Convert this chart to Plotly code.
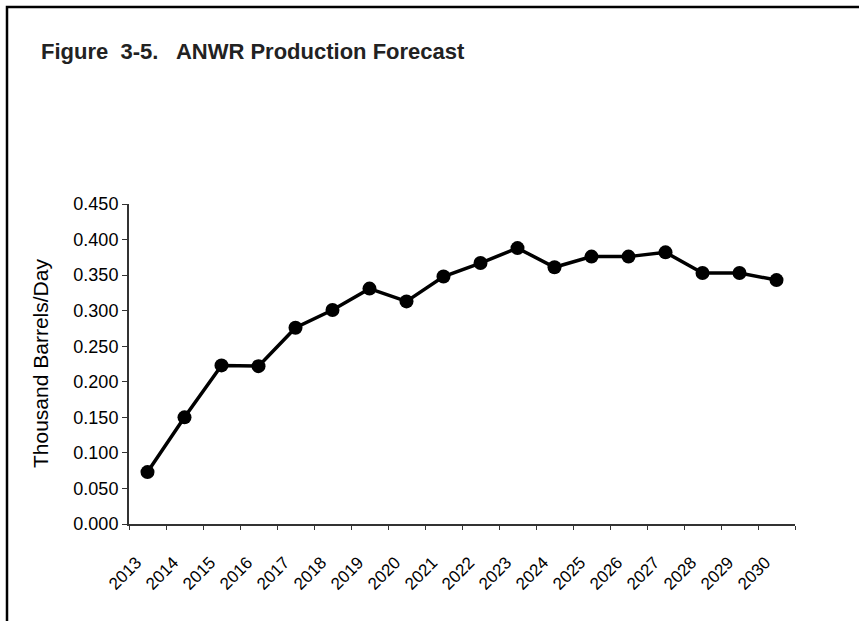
import plotly.graph_objects as go

years = [str(y) for y in range(2013, 2031)]
production = [0.073, 0.150, 0.223, 0.222, 0.276, 0.301, 0.331, 0.313, 0.348,
              0.367, 0.388, 0.361, 0.376, 0.376, 0.382, 0.353, 0.353, 0.343]
y_ticks = [0.0, 0.05, 0.10, 0.15, 0.20, 0.25, 0.30, 0.35, 0.40, 0.45]
y_tick_labels = ["0.000", "0.050", "0.100", "0.150", "0.200", "0.250",
                 "0.300", "0.350", "0.400", "0.450"]

W, H = 859, 621
L, R, T, B = 129, 64, 204, 97
pw, ph = W - L - R, H - T - B

def px(x):
    return (x - L) / pw

def py(y):
    return (H - y - B) / ph

font = "Liberation Sans, Arial, sans-serif"

fig = go.Figure()
fig.add_trace(go.Scatter(
    x=years, y=production, mode="lines+markers",
    line=dict(color="black", width=3.5),
    marker=dict(color="black", size=14, symbol="circle"),
    showlegend=False,
))

fig.update_layout(
    width=W, height=H, autosize=False,
    margin=dict(l=L, r=R, t=T, b=B, pad=0),
    paper_bgcolor="white", plot_bgcolor="white",
    font=dict(family=font, color="black"),
    xaxis=dict(
        type="category", range=[-0.5, len(years) - 0.5],
        tickangle=-45, tickson="boundaries",
        ticks="outside", ticklen=4, tickcolor="#333", tickwidth=1,
        showline=True, linecolor="#333", linewidth=2,
        showgrid=False, zeroline=False,
        ticklabelstandoff=20, ticklabelshift=-11,
        tickfont=dict(size=17, family=font, color="black"),
    ),
    yaxis=dict(
        range=[0, 0.45], tickvals=y_ticks, ticktext=y_tick_labels,
        ticks="outside", ticklen=5, tickcolor="#333", tickwidth=1,
        showline=True, linecolor="#333", linewidth=2,
        showgrid=False, zeroline=False,
        tickfont=dict(size=18, family=font, color="black"),
    ),
    shapes=[dict(
        type="path", xref="paper", yref="paper",
        path=f"M {px(7)},{py(625)} L {px(7)},{py(7)} L {px(862)},{py(7)}",
        line=dict(color="black", width=2.5),
    )],
    annotations=[
        dict(text="<b>Figure  3-5.   ANWR Production Forecast</b>",
             xref="paper", yref="paper", x=px(39), y=py(52),
             xanchor="left", yanchor="middle", showarrow=False,
             font=dict(size=22, family=font, color="#222")),
        dict(text="Thousand Barrels/Day", textangle=-90,
             xref="paper", yref="paper", x=px(40), y=py(363),
             xanchor="center", yanchor="middle", showarrow=False,
             font=dict(size=21, family=font, color="black")),
    ],
)

fig.write_html("out.html", config={"displayModeBar": False},
               post_script="document.body.style.margin='0';")
